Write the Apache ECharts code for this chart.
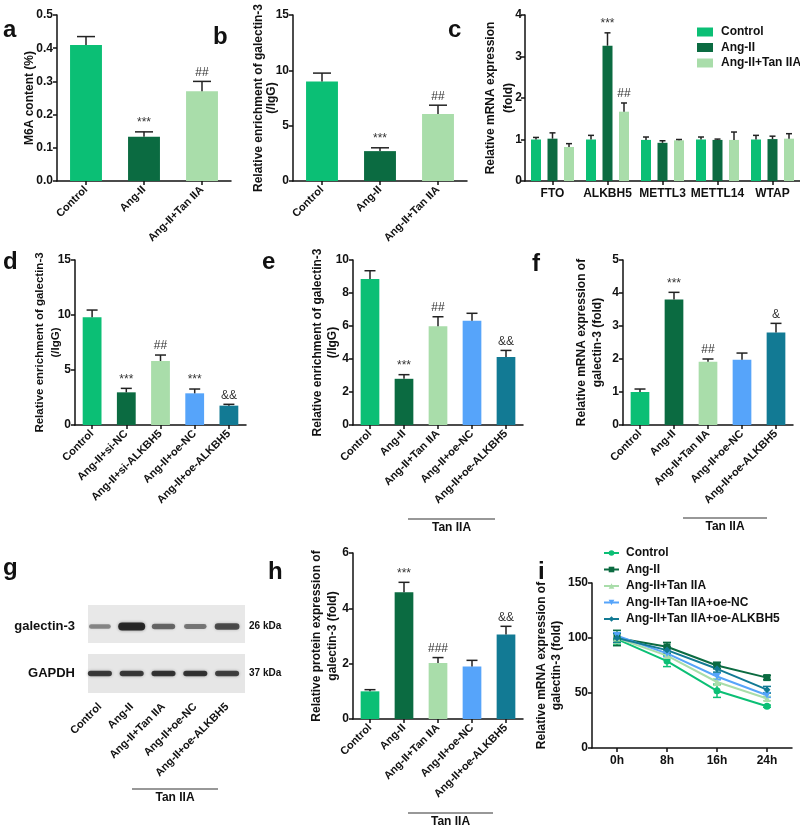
<!DOCTYPE html>
<html><head><meta charset="utf-8">
<script src="https://cdn.jsdelivr.net/npm/echarts@6/dist/echarts.min.js"></script>
<style>html,body{margin:0;padding:0;background:#fff}#c{width:800px;height:826px}</style>
</head><body><div id="c"></div><script>
// ---------------- data ----------------
const groups3 = ['Control', 'Ang-II', 'Ang-II+Tan IIA'];
const aValues = [0.41, 0.133, 0.27];
const aErrors = [0.025, 0.015, 0.03];
const aMarks = ['', '***', '##'];
const bValues = [9.0, 2.7, 6.05];
const bErrors = [0.75, 0.3, 0.8];
const bMarks = ['', '***', '##'];
const genes = ['FTO', 'ALKBH5', 'METTL3', 'METTL14', 'WTAP'];
const cControl = [1.0, 1.0, 0.99, 1.0, 1.0];
const cControlErr = [0.05, 0.1, 0.07, 0.06, 0.1];
const cAng = [1.02, 3.26, 0.92, 0.99, 1.01];
const cAngErr = [0.14, 0.31, 0.05, 0.02, 0.07];
const cTan = [0.82, 1.67, 0.98, 0.99, 1.02];
const cTanErr = [0.08, 0.21, 0.02, 0.19, 0.12];
const cMarksAng = ['', '***', '', '', ''];
const cMarksTan = ['', '##', '', '', ''];
const dGroups = ['Control', 'Ang-II+si-NC', 'Ang-II+si-ALKBH5', 'Ang-II+oe-NC', 'Ang-II+oe-ALKBH5'];
const dValues = [9.8, 2.97, 5.82, 2.88, 1.76];
const dErrors = [0.65, 0.36, 0.54, 0.39, 0.12];
const dMarks = ['', '***', '##', '***', '&&'];
const oeGroups = ['Control', 'Ang-II', 'Ang-II+Tan IIA', 'Ang-II+oe-NC', 'Ang-II+oe-ALKBH5'];
const eValues = [8.85, 2.8, 5.98, 6.32, 4.12];
const eErrors = [0.5, 0.25, 0.58, 0.45, 0.4];
const eMarks = ['', '***', '##', '', '&&'];
const fValues = [1.0, 3.8, 1.92, 1.98, 2.8];
const fErrors = [0.09, 0.22, 0.08, 0.2, 0.28];
const fMarks = ['', '***', '##', '', '&'];
const hValues = [1.0, 4.58, 2.02, 1.9, 3.05];
const hErrors = [0.06, 0.36, 0.2, 0.22, 0.3];
const hMarks = ['', '***', '###', '', '&&'];
const blotRows = ['GAPDH', 'galectin-3'];
const blotMW = ['37 kDa', '26 kDa'];
const galectinBand = [0.35, 1.0, 0.55, 0.45, 0.72];
const gapdhBand = [0.85, 0.85, 0.9, 0.9, 0.8];
const timePoints = ['0h', '8h', '16h', '24h'];
const iNames = ['Control', 'Ang-II', 'Ang-II+Tan IIA', 'Ang-II+Tan IIA+oe-NC', 'Ang-II+Tan IIA+oe-ALKBH5'];
const iControl = [99, 79, 52, 38];
const iControlErr = [5, 5, 6, 1];
const iAng = [100, 92, 75, 64];
const iAngErr = [7, 4, 3, 2];
const iTan = [100, 84, 60, 45];
const iTanErr = [5, 3, 3, 2];
const iOeNC = [102, 86, 65, 48];
const iOeNCErr = [3, 3, 3, 2];
const iOeALK = [100, 89, 72, 53];
const iOeALKErr = [4, 3, 3, 3];
const yTicksA = [0, 0.5, 0.1];
const yTicksB = [0, 15, 5];
const yTicksC = [0, 4, 1];
const yTicksD = [0, 15, 5];
const yTicksE = [0, 10, 2];
const yTicksF = [0, 5, 1];
const yTicksH = [0, 6, 2];
const yTicksI = [0, 150, 50];

// ---------------- style ----------------
const F = '"Liberation Sans", Arial, Helvetica, sans-serif';
const INK = '#111';
const C = { ctrl: '#0BBF75', ang: '#0B6B41', tan: '#A9DDAA', nc: '#56A4FA', alk: '#127A94' };
const colors5 = [C.ctrl, C.ang, C.tan, C.nc, C.alk];

function gridBox(l, t, w, h) { return { left: l, top: t, width: w, height: h, containLabel: false, outerBoundsMode: 'none' }; }
const grids = [
  gridBox(57, 15, 174, 166),   // a
  gridBox(293, 15, 174, 166),  // b
  gridBox(525, 15, 275, 166),  // c
  gridBox(75, 260, 171, 165),  // d
  gridBox(353, 260, 170, 165), // e
  gridBox(623, 260, 170, 165), // f
  gridBox(84, 603, 159, 94),   // g (blot)
  gridBox(353, 553, 170, 166), // h
  gridBox(592, 583, 200, 165)  // i
];

const axLine = { show: true, lineStyle: { color: INK, width: 1.5 } };
const axTick = { show: true, length: 4, lineStyle: { color: INK, width: 1.5 } };

function catX(gi, data, rotate, fs) {
  return {
    type: 'category', gridIndex: gi, data: data, boundaryGap: true,
    axisLine: axLine, axisTick: Object.assign({ alignWithLabel: true }, axTick),
    axisLabel: { interval: 0, rotate: rotate, margin: 7, fontFamily: F, fontWeight: 'bold', fontSize: fs, color: INK },
    splitLine: { show: false }
  };
}
function valY(gi, ticks, name, gap, lh, dec, fs, lm) {
  return {
    type: 'value', gridIndex: gi, min: ticks[0], max: ticks[1], interval: ticks[2],
    name: name, nameLocation: 'middle', nameGap: gap, nameRotate: 90, nameMoveOverlap: false,
    nameTextStyle: { fontFamily: F, fontWeight: 'bold', fontSize: fs || 12, color: INK, lineHeight: lh, align: 'center' },
    axisLine: axLine, axisTick: axTick,
    axisLabel: { margin: lm || 4, fontFamily: F, fontWeight: 'bold', fontSize: 12, color: INK,
      formatter: dec ? (v => v.toFixed(dec)) : (v => String(v)) },
    splitLine: { show: false }
  };
}

function barSeries(gi, values, cols, name) {
  return {
    type: 'bar', name: name, xAxisIndex: gi, yAxisIndex: gi, barWidth: '55%', silent: true,
    data: values.map((v, i) => ({ value: v, itemStyle: { color: cols[i] } }))
  };
}
function errSeries(gi, vals, errs, marks, offset, capW) {
  return {
    type: 'custom', xAxisIndex: gi, yAxisIndex: gi, silent: true, z: 5,
    data: vals.map((v, i) => [i, v, v + errs[i]]),
    renderItem: function (params, api) {
      const b = api.coord([api.value(0), api.value(1)]);
      const t = api.coord([api.value(0), api.value(2)]);
      const x = b[0] + offset;
      const st = { stroke: '#222', lineWidth: 1.5 };
      const ch = [
        { type: 'line', shape: { x1: x, y1: b[1], x2: x, y2: t[1] }, style: st },
        { type: 'line', shape: { x1: x - capW / 2, y1: t[1], x2: x + capW / 2, y2: t[1] }, style: st }
      ];
      const m = marks[params.dataIndex];
      if (m) ch.push({ type: 'text', x: x, y: t[1] - 3, style: { text: m, align: 'center', verticalAlign: 'bottom',
        textAlign: 'center', textVerticalAlign: 'bottom', font: '12px ' + F, fill: '#333' } });
      return { type: 'group', children: ch };
    }
  };
}
function errLine(gi, vals, errs, color) {
  return {
    type: 'custom', xAxisIndex: gi, yAxisIndex: gi, silent: true, z: 1,
    data: vals.map((v, i) => [i, v - errs[i], v + errs[i]]),
    renderItem: function (params, api) {
      const lo = api.coord([api.value(0), api.value(1)]);
      const hi = api.coord([api.value(0), api.value(2)]);
      const x = lo[0];
      const st = { stroke: color, lineWidth: 1.5 };
      return { type: 'group', children: [
        { type: 'line', shape: { x1: x, y1: lo[1], x2: x, y2: hi[1] }, style: st },
        { type: 'line', shape: { x1: x - 4, y1: lo[1], x2: x + 4, y2: lo[1] }, style: st },
        { type: 'line', shape: { x1: x - 4, y1: hi[1], x2: x + 4, y2: hi[1] }, style: st }
      ] };
    }
  };
}
function lineSeries(name, vals, color, symbol) {
  return {
    type: 'line', name: 'i:' + name, xAxisIndex: 8, yAxisIndex: 8, data: vals, symbol: symbol, symbolSize: 7,
    lineStyle: { color: color, width: 2 }, itemStyle: { color: color }, silent: true, z: 3
  };
}

const xAxes = [
  catX(0, groups3, 45, 11), catX(1, groups3, 45, 11), catX(2, genes, 0, 12),
  catX(3, dGroups, 45, 11), catX(4, oeGroups, 45, 11), catX(5, oeGroups, 45, 11),
  { type: 'category', gridIndex: 6, data: oeGroups, boundaryGap: true, axisLine: { show: false }, axisTick: { show: false },
    axisLabel: { interval: 0, rotate: 45, margin: 8, fontFamily: F, fontWeight: 'bold', fontSize: 11, color: INK } },
  catX(7, oeGroups, 45, 11), catX(8, timePoints, 0, 12)
];
const yAxes = [
  valY(0, yTicksA, 'M6A content (%)', 20, 14, 1),
  valY(1, yTicksB, 'Relative enrichment of galectin-3\n(/IgG)', 14.5, 13),
  valY(2, yTicksC, 'Relative mRNA expression\n(fold)', 7, 18, 0, 12, 3),
  valY(3, yTicksD, 'Relative enrichment of galectin-3\n(/IgG)', 11, 16, 0, 11.5),
  valY(4, yTicksE, 'Relative enrichment of galectin-3\n(/IgG)', 12.5, 15),
  valY(5, yTicksF, 'Relative mRNA expression of\ngalectin-3 (fold)', 17, 16),
  { type: 'category', gridIndex: 6, data: blotRows, axisLine: { show: false }, axisTick: { show: false },
    axisLabel: { margin: 9, fontFamily: F, fontWeight: 'bold', fontSize: 13, color: INK } },
  valY(7, yTicksH, 'Relative protein expression of\ngalectin-3 (fold)', 12, 16),
  valY(8, yTicksI, 'Relative mRNA expression of\ngalectin-3 (fold)', 27.5, 15),
  { type: 'category', gridIndex: 6, position: 'right', data: blotMW, axisLine: { show: false }, axisTick: { show: false },
    axisLabel: { margin: 6, fontFamily: F, fontWeight: 'bold', fontSize: 10, color: INK } }
];

const cOff = 16.5;
const series = [
  barSeries(0, aValues, colors5), errSeries(0, aValues, aErrors, aMarks, 0, 18),
  barSeries(1, bValues, colors5), errSeries(1, bValues, bErrors, bMarks, 0, 18),
  { type: 'bar', name: 'c:Control', xAxisIndex: 2, yAxisIndex: 2, data: cControl, barWidth: 10, barGap: '65%', itemStyle: { color: C.ctrl }, silent: true },
  { type: 'bar', name: 'c:Ang-II', xAxisIndex: 2, yAxisIndex: 2, data: cAng, barWidth: 10, barGap: '65%', itemStyle: { color: C.ang }, silent: true },
  { type: 'bar', name: 'c:Ang-II+Tan IIA', xAxisIndex: 2, yAxisIndex: 2, data: cTan, barWidth: 10, barGap: '65%', itemStyle: { color: C.tan }, silent: true },
  errSeries(2, cControl, cControlErr, ['', '', '', '', ''], -cOff, 6),
  errSeries(2, cAng, cAngErr, cMarksAng, 0, 6),
  errSeries(2, cTan, cTanErr, cMarksTan, cOff, 6),
  barSeries(3, dValues, colors5), errSeries(3, dValues, dErrors, dMarks, 0, 11),
  barSeries(4, eValues, colors5), errSeries(4, eValues, eErrors, eMarks, 0, 11),
  barSeries(5, fValues, colors5), errSeries(5, fValues, fErrors, fMarks, 0, 11),
  barSeries(7, hValues, colors5), errSeries(7, hValues, hErrors, hMarks, 0, 11),
  // blot bands
  {
    type: 'custom', xAxisIndex: 6, yAxisIndex: 6, silent: true, z: 4,
    data: galectinBand.map((v, i) => [i, 1, v]).concat(gapdhBand.map((v, i) => [i, 0, v])),
    renderItem: function (params, api) {
      const p = api.coord([api.value(0), api.value(1)]);
      const k = api.value(2);
      const gal = api.value(1) === 1;
      const w = gal ? 19 + 8 * k : 24;
      const h = gal ? 2.5 + 5.5 * k : 5.5;
      return { type: 'rect', shape: { x: p[0] - w / 2, y: p[1] - h / 2, width: w, height: h, r: h / 2 },
        style: { fill: 'rgba(25,25,25,' + (0.2 + 0.7 * k) + ')', shadowBlur: 3, shadowColor: 'rgba(25,25,25,' + (0.5 * k) + ')' } };
    }
  },
  errLine(8, iControl, iControlErr, C.ctrl), errLine(8, iAng, iAngErr, C.ang), errLine(8, iTan, iTanErr, C.tan),
  errLine(8, iOeNC, iOeNCErr, C.nc), errLine(8, iOeALK, iOeALKErr, C.alk),
  lineSeries(iNames[0], iControl, C.ctrl, 'circle'),
  lineSeries(iNames[1], iAng, C.ang, 'rect'),
  lineSeries(iNames[2], iTan, C.tan, 'triangle'),
  lineSeries(iNames[3], iOeNC, C.nc, 'path://M0,0 L10,0 L5,9 Z'),
  lineSeries(iNames[4], iOeALK, C.alk, 'diamond')
];

function letter(t, x, y) { return { type: 'text', x: x, y: y, style: { text: t, font: 'bold 24px ' + F, fill: INK, textVerticalAlign: 'alphabetic', verticalAlign: 'alphabetic' } }; }
function bracket(x1, x2, y) {
  return [
    { type: 'line', shape: { x1: x1, y1: y, x2: x2, y2: y }, style: { stroke: '#333', lineWidth: 1.2 } },
    { type: 'text', x: (x1 + x2) / 2, y: y + 3, style: { text: 'Tan IIA', font: 'bold 12px ' + F, fill: INK, textAlign: 'center', align: 'center', textVerticalAlign: 'top', verticalAlign: 'top' } }
  ];
}
const graphic = [
  { type: 'rect', shape: { x: 88, y: 605, width: 157, height: 38 }, style: { fill: '#e8e8e8' }, z: 0 },
  { type: 'rect', shape: { x: 88, y: 654, width: 157, height: 39 }, style: { fill: '#e6e6e6' }, z: 0 },
  letter('a', 3, 18), letter('b', 213, 25), letter('c', 448, 18),
  letter('d', 3, 250), letter('e', 262, 250), letter('f', 532, 252),
  letter('g', 3, 556), letter('h', 268, 560), letter('i', 538, 560)
].concat(bracket(408, 495, 519), bracket(683, 767, 518), bracket(132, 218, 789), bracket(408, 493, 813));

const chart = echarts.init(document.getElementById('c'), null, { renderer: 'canvas' });
chart.setOption({
  animation: false,
  backgroundColor: '#fff',
  grid: grids,
  xAxis: xAxes,
  yAxis: yAxes,
  legend: [
    { data: ['c:Control', 'c:Ang-II', 'c:Ang-II+Tan IIA'], orient: 'vertical', left: 697, top: 26, padding: 0,
      itemWidth: 16, itemHeight: 9, itemGap: 3.5, icon: 'rect', selectedMode: false, formatter: n => n.slice(2),
      textStyle: { fontFamily: F, fontWeight: 'bold', fontSize: 12, color: INK, padding: [0, 0, 0, 3] } },
    { data: iNames.map(n => 'i:' + n), orient: 'vertical', left: 603, top: 547, padding: 0,
      itemWidth: 15, itemHeight: 7, itemGap: 4.5, selectedMode: false, formatter: n => n.slice(2),
      textStyle: { fontFamily: F, fontWeight: 'bold', fontSize: 12, color: INK, padding: [0, 0, 0, 2] } }
  ],
  series: series,
  graphic: graphic
});
</script></body></html>
